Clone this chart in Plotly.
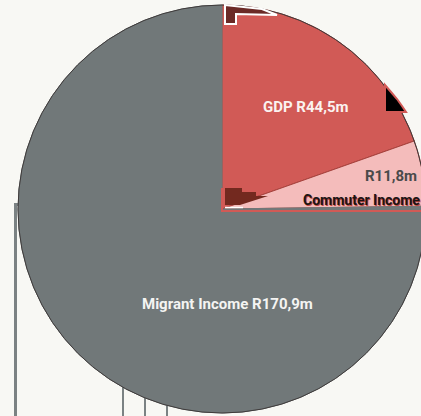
import plotly.graph_objects as go

# Income sources (R millions)
categories = ["GDP", "Commuter Income", "Migrant Income"]
values = [44.5, 11.8, 170.9]
colors = ["#d15a56", "#f4bcbb", "#717879"]
edge_colors = ["#a8423d", "#a8423d", "#717879"]

W, H = 430, 416
# pie geometry in pixels
CX, CY, R = 222, 209, 204


def money(v):
    return f"R{v:.1f}m".replace(".", ",")


def px(x, y):
    """pixel position -> paper coordinates"""
    return x / W, 1 - y / H


def path(points, close=True):
    pts = [px(x, y) for x, y in points]
    d = "M " + " L ".join(f"{a:.5f},{b:.5f}" for a, b in pts)
    return d + (" Z" if close else "")


fig = go.Figure(
    go.Pie(
        labels=categories,
        values=values,
        sort=False,
        direction="clockwise",
        rotation=0,
        marker=dict(colors=colors, line=dict(color=edge_colors, width=1)),
        textinfo="none",
        hoverinfo="label+value",
        showlegend=False,
        domain=dict(x=[(CX - R) / W, (CX + R) / W],
                    y=[1 - (CY + R) / H, 1 - (CY - R) / H]),
    )
)

shapes = []
# grey vertical rules behind the pie
shapes.append(dict(type="path", path=path([(15.5, 416), (15.5, 204.5), (20, 204.5)], close=False),
                   xref="paper", yref="paper", line=dict(color="#7b8283", width=3), layer="below"))
for xv in (123, 145, 167):
    x0, y0 = px(xv, 370)
    x1, y1 = px(xv, 416)
    shapes.append(dict(type="line", x0=x0, y0=y0, x1=x1, y1=y1, xref="paper", yref="paper",
                       line=dict(color="#7b8283", width=2), layer="below"))

# thin dark rim round the pie
c0 = px(CX - R, CY + R)
c1 = px(CX + R, CY - R)
shapes.append(dict(type="circle", x0=c0[0], y0=c0[1], x1=c1[0], y1=c1[1], xref="paper", yref="paper",
                   line=dict(color="#3f3b3b", width=1), layer="above"))

# small dark marker at the top of the GDP wedge
shapes.append(dict(type="path", path=path([(225, 5), (262, 9), (277, 15), (236, 14), (236, 24), (225, 24)]),
                   xref="paper", yref="paper", fillcolor="#6b2a26",
                   line=dict(color="#ffffff", width=2), layer="above"))
# black marker on the rim
shapes.append(dict(type="path", path=path([(385, 85), (391, 92), (397, 99), (402, 106), (406, 112), (385, 112)]),
                   xref="paper", yref="paper", fillcolor="#000000",
                   line=dict(color="#d15a56", width=2), layer="above"))
# frame of the commuter label
shapes.append(dict(type="path", path=path([(222, 188), (222, 211), (432, 211)], close=False),
                   xref="paper", yref="paper", line=dict(color="#d15a56", width=2), layer="above"))
shapes.append(dict(type="path", path=path([(225, 188), (242, 188), (242, 192), (256, 192), (256, 196),
                                           (268, 196), (240, 205), (225, 205)]),
                   xref="paper", yref="paper", fillcolor="#73291f", line=dict(width=0), layer="above"))
shapes.append(dict(type="line", x0=px(225, 207.5)[0], y0=px(225, 207.5)[1],
                   x1=px(243, 207.5)[0], y1=px(243, 207.5)[1], xref="paper", yref="paper",
                   line=dict(color="#ffffff", width=1.5), layer="above"))

FONT = "Roboto, Liberation Sans, sans-serif"

annotations = []


def label(text, x, y, color, size, anchor="center", bold=True):
    ax, ay = px(x, y)
    annotations.append(dict(text=f"<b>{text}</b>" if bold else text, x=ax, y=ay,
                            xref="paper", yref="paper", xanchor=anchor, yanchor="middle",
                            showarrow=False, font=dict(family=FONT, size=size, color=color)))


label(f"{categories[0]} {money(values[0])}", 305, 107, "#fbf2f0", 15)
label(money(values[1]), 419, 176, "#4a4a4a", 15, anchor="right")
label(categories[1], 302, 201, "#c0463f", 14, anchor="left")
label(categories[1], 301, 200, "#1c1414", 14, anchor="left")
label(f"{categories[2]} {money(values[2])}", 228, 304, "#f4f4f2", 15)

fig.update_layout(
    width=W,
    height=H,
    margin=dict(l=0, r=0, t=0, b=0),
    paper_bgcolor="#f8f8f4",
    plot_bgcolor="#f8f8f4",
    shapes=shapes,
    annotations=annotations,
)

fig.write_html(
    "out.html",
    config={"displayModeBar": False},
    post_script="document.documentElement.style.overflow='hidden';document.body.style.overflow='hidden';",
)
